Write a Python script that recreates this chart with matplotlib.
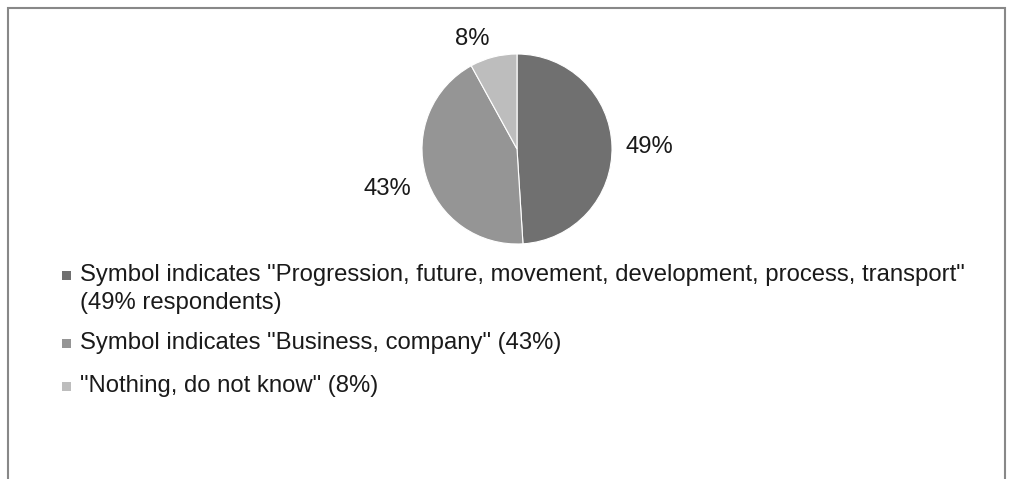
import matplotlib
matplotlib.use("Agg")
import matplotlib.pyplot as plt
from matplotlib.patches import Rectangle

# Survey answers: what the symbol indicates
categories = [
    'Symbol indicates "Progression, future, movement, development, process, transport"\n(49% respondents)',
    'Symbol indicates "Business, company" (43%)',
    '"Nothing, do not know" (8%)',
]
shares = [49, 43, 8]
colors = ["#707070", "#959595", "#bdbdbd"]

plt.rcParams["font.family"] = ["Liberation Sans", "DejaVu Sans"]

W, H = 1013, 479
fig = plt.figure(figsize=(W / 100, H / 100), dpi=100)

# outer frame (bottom edge runs off the canvas)
fig.patches.append(Rectangle((7.5 / W, -0.05), 997 / W, (H - 7.5) / H + 0.05,
                             transform=fig.transFigure, fill=False,
                             edgecolor="#888888", linewidth=1.5))

# pie axes: radius ~95 px, centre at (517, 149) px from the top
r_px = 95
cx, cy = 517, 149
ax = fig.add_axes([(cx - r_px) / W, (H - cy - r_px) / H, 2 * r_px / W, 2 * r_px / H])
wedges, _ = ax.pie(shares, colors=colors, startangle=90, counterclock=False,
                   wedgeprops=dict(edgecolor="white", linewidth=0.8))
ax.set_xlim(-1, 1)
ax.set_ylim(-1, 1)
ax.set_aspect("equal")
ax.axis("off")

fs = 17.2
txt_color = "#1a1a1a"

# value labels, placed just outside each wedge
label_offsets = [(1.39, 0.02), (-1.36, -0.42), (-0.47, 1.16)]
for v, (lx, ly) in zip(shares, label_offsets):
    ax.text(lx, ly, f"{v}%", ha="center", va="center", fontsize=fs,
            color=txt_color, clip_on=False)

# legend drawn as swatches + text rows (y = swatch centre, px from top)
row_y = [275, 343, 386]
for lab, col, y in zip(categories, colors, row_y):
    fig.patches.append(Rectangle((62 / W, (H - y - 4.5) / H), 9 / W, 9 / H,
                                 transform=fig.transFigure, facecolor=col,
                                 edgecolor="none"))
    lines = lab.split("\n")
    for k, line in enumerate(lines):
        fig.text(80 / W, (H - y - 6 - 28 * k) / H, line, ha="left",
                 va="baseline", fontsize=fs, color=txt_color)

fig.savefig("out.png", dpi=100)
